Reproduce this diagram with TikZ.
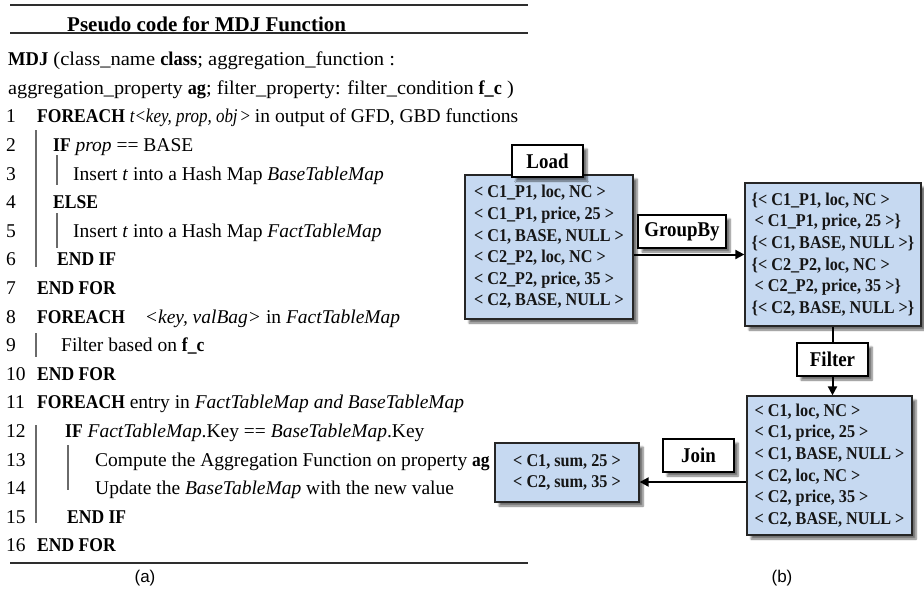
\documentclass[tikz,border=0pt]{standalone}
\usepackage{fontspec}
\setmainfont{Liberation Serif}[BoldFeatures={FakeStretch=0.9}]
\newfontfamily\titlefont{Liberation Serif Bold}
\newfontfamily\capfont{Liberation Sans}
\usetikzlibrary{arrows.meta,shadows.blur,backgrounds}
\definecolor{boxblue}{HTML}{C6D9F1}
\definecolor{rulegray}{HTML}{2E2E2E}
\definecolor{bargray}{HTML}{6A6A6A}
\definecolor{boxtext}{HTML}{161616}
\newcommand\codefont{\fontsize{19.5}{22}\selectfont}
\newcommand\tuplefont{\bfseries\fontsize{18}{21.6}\selectfont}
\newcommand\tagfont{\bfseries\fontsize{21}{24}\selectfont}
\begin{document}
\begin{tikzpicture}[x=1pt,y=-1pt,
  code/.style={anchor=base west, inner sep=0pt, font=\codefont},
  rulel/.style={draw=rulegray, line width=1.6pt},
  scopebar/.style={draw=bargray, line width=1.3pt},
  softshadow/.style={blur shadow={shadow xshift=4pt, shadow yshift=-4pt,
      shadow blur steps=6, shadow opacity=55}},
  databox/.style={draw=black!85, line width=1.3pt, fill=boxblue, inner sep=0pt,
      align=left, font=\tuplefont, text=boxtext, softshadow},
  tagbox/.style={draw=black, line width=1.2pt, fill=white, inner sep=0pt,
      font=\tagfont, softshadow},
  conn/.style={line width=2pt, -{Triangle[length=9pt,width=9pt]}},
  caption/.style={font=\capfont\fontsize{17}{20}\selectfont, inner sep=0pt}]
\useasboundingbox (0,0) rectangle (924,590);

% ---------- (a) pseudo code ----------
\draw[rulel] (10,5) -- (528,5);
\node[code, font=\titlefont\fontsize{21}{24}\selectfont] (title) at (67,31.5) {Pseudo code for MDJ Function};
\draw[rulel] (10,33) -- (528,33);

\node[code] (h0) at (8,65.6) {\scalebox{1.055}[1]{\textbf{MDJ} (class\_name \textbf{class}; aggregation\_function :}};
\node[code] (h1) at (8,94.2) {\scalebox{1.04}[1]{aggregation\_property \textbf{ag}; filter\_property: filter\_condition \textbf{f\_c} )}};

% line numbers
\foreach \n/\y in {1/122.8,2/151.4,3/180.0,4/208.6,5/237.2,6/265.8,7/294.4,8/323.0,
                   9/351.6,10/380.2,11/408.8,12/437.4,13/466.0,14/494.6,15/523.2,16/551.8}
  \node[code] (n\n) at (6,\y) {\n};

% statements
\node[code] (s1)  at (37,122.8) {\textbf{FOREACH} \scalebox{0.87}[1]{\textit{t<key, prop, obj}\,>} in output of GFD, GBD functions};
\node[code] (s2)  at (53,151.4) {\textbf{IF} \textit{prop} == BASE};
\node[code] (s3)  at (73,180.0) {Insert \textit{t} into a Hash Map \textit{BaseTableMap}};
\node[code] (s4)  at (53,208.6) {\textbf{ELSE}};
\node[code] (s5)  at (73,237.2) {Insert \textit{t} into a Hash Map \textit{FactTableMap}};
\node[code] (s6)  at (57,265.8) {\textbf{END IF}};
\node[code] (s7)  at (37,294.4) {\textbf{END FOR}};
\node[code] (s8)  at (37,323.0) {\textbf{FOREACH}\hspace{20pt}\textit{<key, valBag>} in \textit{FactTableMap}};
\node[code] (s9)  at (61,351.6) {Filter based on \textbf{f\_c}};
\node[code] (s10) at (37,380.2) {\textbf{END FOR}};
\node[code] (s11) at (37,408.8) {\textbf{FOREACH} entry in \textit{FactTableMap and BaseTableMap}};
\node[code] (s12) at (65,437.4) {\textbf{IF} \textit{FactTableMap}.Key == \textit{BaseTableMap}.Key};
\node[code] (s13) at (95,466.0) {Compute the Aggregation Function on property \textbf{ag}};
\node[code] (s14) at (95,494.6) {Update the \textit{BaseTableMap} with the new value};
\node[code] (s15) at (67,523.2) {\textbf{END IF}};
\node[code] (s16) at (37,551.8) {\textbf{END FOR}};

% block bars
\draw[scopebar] (36,130) -- (36,267);
\draw[scopebar] (57,155) -- (57,185);
\draw[scopebar] (57,213) -- (57,248);
\draw[scopebar] (36,333) -- (36,357);
\draw[scopebar] (36,425) -- (36,523);
\draw[scopebar] (68,445) -- (68,490);

\draw[rulel] (10,563) -- (528,563);
\node[caption] (capa) at (145,578) {(a)};

% ---------- (b) data flow ----------
\node[databox, minimum width=168pt, minimum height=144pt] (load) at (549,247)
  {< C1\_P1, loc, NC >\\< C1\_P1, price, 25 >\\< C1, BASE, NULL >\\
   < C2\_P2, loc, NC >\\< C2\_P2, price, 35 >\\< C2, BASE, NULL >};
\node[databox, minimum width=176pt, minimum height=143pt] (grp) at (833,254.5)
  {\{< C1\_P1, loc, NC >\\\hspace*{3pt}< C1\_P1, price, 25 >\}\\\{< C1, BASE, NULL >\}\\
   \{< C2\_P2, loc, NC >\\\hspace*{3pt}< C2\_P2, price, 35 >\}\\\{< C2, BASE, NULL >\}};
\node[databox, minimum width=165pt, minimum height=139pt] (filt) at (829.5,465.5)
  {< C1, loc, NC >\\< C1, price, 25 >\\< C1, BASE, NULL >\\
   < C2, loc, NC >\\< C2, price, 35 >\\< C2, BASE, NULL >};
\node[databox, align=center, minimum width=144pt, minimum height=59pt] (res) at (567,472.5)
  {< C1, sum, 25 >\\< C2, sum, 35 >};

\node[tagbox, minimum width=71pt, minimum height=32pt] (tload) at (547.5,161) {Load};
\node[tagbox, minimum width=88pt, minimum height=33pt] (tgrp)  at (682,231.5) {GroupBy};
\node[tagbox, minimum width=71pt, minimum height=33pt] (tfilt) at (832.5,359.5) {Filter};
\node[tagbox, minimum width=71pt, minimum height=33pt] (tjoin) at (698.5,455.5) {Join};

\coordinate (joinlevel) at (700,482);
\begin{scope}[on background layer]
  \draw[conn] (load.east |- grp.west) -- (grp.west);
  \draw[conn] (tfilt |- grp.south) -- (tfilt |- filt.north);
  \draw[conn] (filt.west |- joinlevel) -- (res.east |- joinlevel);
\end{scope}

\node[caption] (capb) at (782,578) {(b)};
\end{tikzpicture}
\end{document}
